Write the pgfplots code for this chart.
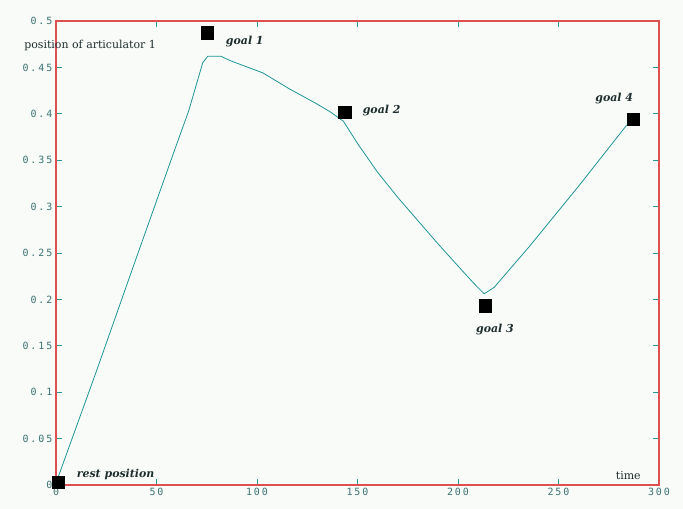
\documentclass[border=0pt]{standalone}
\usepackage{fontspec}
\usepackage{pgfplots}
\pgfplotsset{compat=1.18}
\usetikzlibrary{backgrounds}
\setmainfont{DejaVu Serif}
\newfontfamily\tickfont[LetterSpace=20]{DejaVu Sans Mono}

\definecolor{framec}{RGB}{222,80,80}
\definecolor{tickc}{RGB}{40,150,150}
\definecolor{labc}{RGB}{60,115,115}
\definecolor{curvec}{RGB}{30,150,150}
\definecolor{bgc}{RGB}{248,251,248}
\definecolor{txtc}{RGB}{30,45,45}

\begin{document}
\begin{tikzpicture}
\begin{axis}[
  scale only axis,
  width=603bp, height=464bp,
  xmin=0, xmax=300, ymin=0, ymax=0.5,
  xtick={0,50,100,150,200,250,300},
  ytick={0,0.05,0.1,0.15,0.2,0.25,0.3,0.35,0.4,0.45,0.5},
  axis line style={framec, line width=1bp},
  major tick length=6bp,
  tick style={tickc, line width=0.8bp},
  ticklabel style={font=\tickfont\fontsize{10}{12}\selectfont, text=labc},
  /pgf/number format/assume math mode=true,
  yticklabel style={/pgf/number format/fixed, /pgf/number format/precision=2},
  clip=false,
]
  \coordinate (sw) at (rel axis cs:0,0);
  \coordinate (ne) at (rel axis cs:1,1);

  % trajectory of articulator 1
  \addplot[curvec, line width=0.8bp] coordinates {
    (0,0.002) (20,0.122) (40,0.245) (60,0.367) (66,0.403) (73,0.455)
    (75.5,0.462) (82,0.462) (87,0.457) (103,0.444) (116,0.427)
    (129.5,0.411) (136.5,0.402) (141,0.395) (143,0.392) (150,0.368)
    (160,0.337) (170,0.310) (180,0.285) (190,0.260) (200,0.236)
    (208,0.217) (213,0.206) (218,0.213) (235.5,0.257) (260,0.322)
    (284,0.388)
  };

  % rest position and goals
  \addplot[only marks, mark=square*, mark size=6.3bp, black] coordinates {
    (1,0.003) (75.2,0.4875) (143.5,0.4016) (213.5,0.1932) (287.1,0.394)
  };

  \draw[framec, line width=1.1bp] (rel axis cs:0,0) rectangle (rel axis cs:1,1);

  \begin{scope}[font=\fontsize{11}{13}\selectfont, text=txtc]
    \node[anchor=west] at (axis cs:-17.5,0.474) {position of articulator 1};
    \node at (axis cs:284.7,0.0105) {time};
    \node[anchor=west, font=\fontsize{11}{13}\selectfont\bfseries\itshape] at (axis cs:8.6,0.011) {rest position};
    \node[anchor=west, font=\fontsize{11}{13}\selectfont\bfseries\itshape] at (axis cs:82.8,0.4777) {goal 1};
    \node[anchor=west, font=\fontsize{11}{13}\selectfont\bfseries\itshape] at (axis cs:150.9,0.403) {goal 2};
    \node[font=\fontsize{11}{13}\selectfont\bfseries\itshape] at (axis cs:218.4,0.167) {goal 3};
    \node[font=\fontsize{11}{13}\selectfont\bfseries\itshape] at (axis cs:277.7,0.416) {goal 4};
  \end{scope}
\end{axis}
\begin{pgfonlayer}{background}
  \fill[bgc] ([xshift=-56bp,yshift=-24bp]sw) rectangle ([xshift=24bp,yshift=21bp]ne);
\end{pgfonlayer}
\end{tikzpicture}
\end{document}
